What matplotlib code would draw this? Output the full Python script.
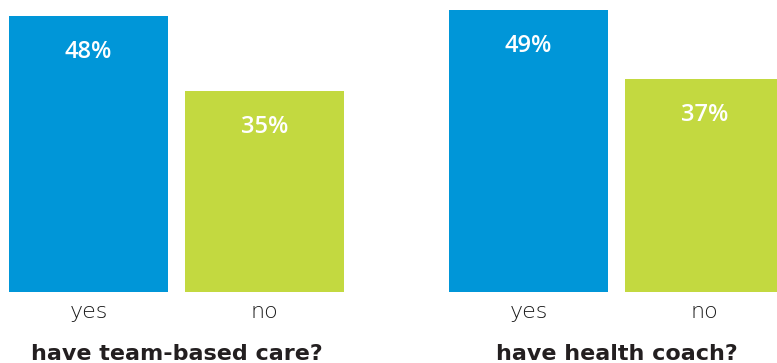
import numpy as np
import matplotlib
matplotlib.use("Agg")
import matplotlib.pyplot as plt
import matplotlib.transforms as mtransforms

# survey results, two questions with yes/no answers
questions = ["have team-based care?", "have health coach?"]
answers = ["yes", "no"]
pct_team = [48, 35]
pct_coach = [49, 37]

blue = '#0096D8'
green = '#C3D940'
txt_dark = '#231F20'
txt_gray = '#1A1A1A'

fig = plt.figure(figsize=(7.77, 3.63), dpi=100)
ax = fig.add_axes([0, 0, 1, 1])

# bar slots: yes/no for each question, with a gap between the groups
x_team = np.array([0.0, 1.0])
x_coach = x_team + 2.5
width = 0.9

for xs, vals in [(x_team, pct_team), (x_coach, pct_coach)]:
    bars = ax.bar(xs, vals, width=width, color=[blue, green], linewidth=0)
    for b, v in zip(bars, vals):
        ax.annotate(f"{v}%", (b.get_x() + b.get_width() / 2, v),
                    xytext=(0, -26), textcoords='offset points',
                    ha='center', va='center', color='white',
                    fontsize=17, family='Open Sans', weight='semibold')

# answer labels under each bar, question title under each group
trans = mtransforms.blended_transform_factory(ax.transData, ax.transAxes)
for xs, q in [(x_team, questions[0]), (x_coach, questions[1])]:
    for xi, a in zip(xs, answers):
        ax.text(xi, 1 - 318 / 363, a, transform=trans, ha='center', va='baseline',
                fontsize=16, color=txt_gray, family='DejaVu Sans', weight='light')
    ax.text(xs.mean(), 1 - 360 / 363, q, transform=trans, ha='center', va='baseline',
            fontsize=16, color=txt_dark, family='DejaVu Sans', weight='bold')

ax.set_xlim(-0.503, 3.912)
ax.set_ylim(-12.24, 50.78)
ax.axis('off')

fig.savefig("out.png", dpi=100)
